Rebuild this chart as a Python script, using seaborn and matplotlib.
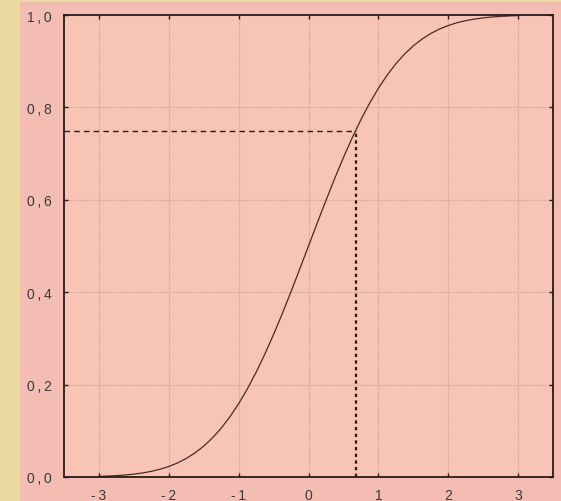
import matplotlib
matplotlib.use("Agg")
import matplotlib.pyplot as plt
import numpy as np
import pandas as pd
import seaborn as sns
from matplotlib.patches import Rectangle

# values (standard normal CDF shape), right half
x_right = [0.0, 0.125, 0.25, 0.375, 0.5, 0.625, 0.75, 0.875, 1.0, 1.125, 1.25, 1.375,
           1.5, 1.625, 1.75, 1.875, 2.0, 2.125, 2.25, 2.375, 2.5, 2.625, 2.75, 2.875, 3.0]
p_right = [0.5, 0.5497, 0.5987, 0.6462, 0.6915, 0.7340, 0.7734, 0.8092, 0.8413, 0.8697,
           0.8944, 0.9154, 0.9332, 0.9479, 0.9599, 0.9696, 0.9772, 0.9832, 0.9878, 0.9912,
           0.9938, 0.9957, 0.9970, 0.9980, 0.9987]
# left half mirrors the right one
x_vals = [-x for x in x_right[:0:-1]] + x_right
p_vals = [round(1 - p, 4) for p in p_right[:0:-1]] + p_right

quantile_x = 0.674
quantile_p = 0.75

x_ticks = [-3, -2, -1, 0, 1, 2, 3]
x_labels = ["-\u20093", "-\u20092", "-\u20091", "0", "1", "2", "3"]
y_ticks = [0.0, 0.2, 0.4, 0.6, 0.8, 1.0]
y_labels = ["0\u2009,\u20090", "0\u2009,\u20092", "0\u2009,\u20094",
            "0\u2009,\u20096", "0\u2009,\u20098", "1\u2009,\u20090"]

df = pd.DataFrame({"x": x_vals, "p": p_vals})

sns.set_theme(style="ticks")
plt.rcParams["font.family"] = ["Liberation Sans", "DejaVu Sans"]

fig = plt.figure(figsize=(5.61, 5.02), dpi=100, facecolor="#EBD9A0")
fig.patches.append(Rectangle((20 / 561, 0), 1, (502 - 3) / 502, transform=fig.transFigure,
                             facecolor="#F4BDB4", edgecolor="none", zorder=-10))

ax = fig.add_axes([64 / 561, 24 / 502, 489 / 561, 462 / 502])
ax.set_facecolor("#F7C4B6")

sns.lineplot(data=df, x="x", y="p", ax=ax, color="#4a2a26", linewidth=0.9)

ax.plot([-3.5, quantile_x], [quantile_p, quantile_p], color="#2a1a18",
        linestyle=(0, (4, 3)), linewidth=1.0)
ax.plot([quantile_x, quantile_x], [0, quantile_p], color="#2a1a18",
        linestyle=(0, (1.5, 1.5)), linewidth=1.6)

ax.set_xlim(-3.5, 3.5)
ax.set_ylim(0, 1)
ax.set_xticks(x_ticks)
ax.set_xticklabels(x_labels)
ax.set_yticks(y_ticks)
ax.set_yticklabels(y_labels)
ax.set_xlabel("")
ax.set_ylabel("")

ax.grid(True, color="#C9A29A", linestyle=(0, (1, 1)), linewidth=0.8)
ax.tick_params(direction="in", length=3, width=1, colors="#2a1a18",
               labelcolor="#3a3a3a", labelsize=10, top=True, right=True)
ax.tick_params(axis="x", pad=8)
ax.tick_params(axis="y", pad=9)
for s in ax.spines.values():
    s.set_color("#2a1a18")
    s.set_linewidth(1.3)

fig.savefig("out.png", dpi=100, facecolor=fig.get_facecolor())
